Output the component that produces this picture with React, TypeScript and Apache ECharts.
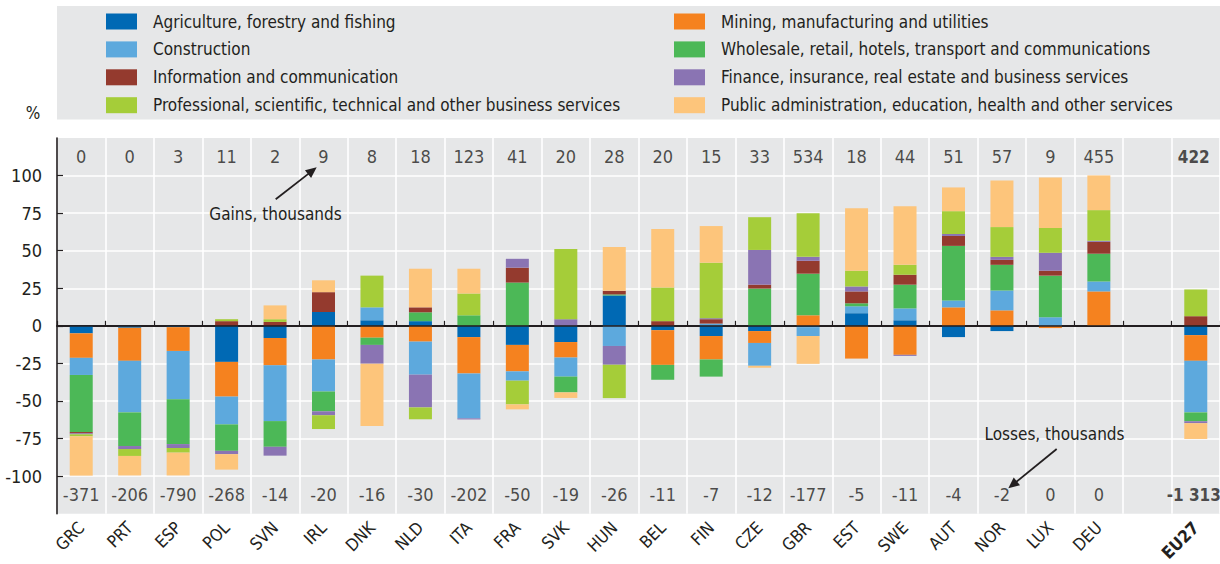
import React, { useEffect, useRef } from "react";
import * as echarts from "echarts";

const categories = ["GRC","PRT","ESP","POL","SVN","IRL","DNK","NLD","ITA","FRA","SVK","HUN","BEL","FIN","CZE","GBR","EST","SWE","AUT","NOR","LUX","DEU","","EU27"];

const gains = [0,0,3,11,2,9,8,18,123,41,20,28,20,15,33,534,18,44,51,57,9,455,null,422];
const losses = [-371,-206,-790,-268,-14,-20,-16,-30,-202,-50,-19,-26,-11,-7,-12,-177,-5,-11,-4,-2,0,0,null,-1313];

const agriculture = [-5,-1.3,-0.9,-24,-8.1,9.2,3.7,3.1,-7.5,-12.7,-10.8,20.2,-2.9,-6.8,-3.5,-0.9,8.4,3.7,-7.5,-3.5,0,0,null,-6.2];
const mining = [-16.3,-22,-15.8,-23.1,-18.2,-22.4,-7.9,-10.5,-24.2,-17.6,-10.3,0,-23.1,-15.6,-7.9,7,-21.8,-19.3,12.3,10.3,-1.5,22.9,null,-17.1];
const construction = [-11.4,-34.3,-32.1,-18.5,-37.1,-21.3,8.6,-22,-29.9,-6.2,-12.7,-13.4,0,1.5,-15.2,-5.9,4.6,7.9,4.6,13.2,5.7,6.6,null,-34.3];
const wholesale = [-38,-22.4,-29.9,-17.6,-17.1,-13.2,-4.8,5.9,7,28.8,-10.5,0.7,-9.9,-11.4,24.8,27.7,2,15.8,36.3,17.1,27.7,18.5,null,-5.9];
const information = [-0.9,0,0,3.1,2.6,13.2,0,3.3,0,9.9,0,2.4,3.1,2.9,2.6,8.6,7.9,6.6,6.6,3.3,3.3,7.9,null,6.4];
const finance = [-0.6,-2,-2.6,-2.2,-5.9,-2.6,-12.5,-21.8,-0.7,5.9,4.4,-12.5,0,0.7,23.1,2.6,3.3,-0.7,1.3,2,11.9,0.7,null,-1.3];
const professional = [-1.3,-4.6,-3.1,1.3,1.8,-9.2,21.1,-7.9,14.5,-15.8,46.8,-22.2,22.4,36.9,21.8,29,10.5,6.6,15.2,19.8,16.5,20.4,null,17.8];
const publicAdmin = [-26.2,-13,-15.2,-10.3,9.2,7.9,-41.5,25.7,16.5,-3.3,-3.7,29.2,38.9,24.4,-1.3,-18.5,41.5,38.9,15.8,31,33.6,23.1,null,-10.5];

const yTicks = [-100,-75,-50,-25,0,25,50,75,100];

const sectorNames = [
  "Agriculture, forestry and fishing",
  "Mining, manufacturing and utilities",
  "Construction",
  "Wholesale, retail, hotels, transport and communications",
  "Information and communication",
  "Finance, insurance, real estate and business services",
  "Professional, scientific, technical and other business services",
  "Public administration, education, health and other services",
];
const sectorValues = [agriculture, mining, construction, wholesale, information, finance, professional, publicAdmin];
const sectorColors = ["#0069b4","#f5821f","#5da9dd","#4cb857","#943a2e","#8a74b3","#a5cd39","#fdc57b"];

const FONT = "'Liberation Sans Narrow', 'Arial Narrow', 'DejaVu Sans Condensed', sans-serif";
const TXT = "#231f20";
const BG = "#e6e7e8";
const LABEL_BAND = 112.5;

function fmt(n: number): string {
  const s = String(Math.abs(n)).replace(/\B(?=(\d{3})+(?!\d))/g, " ");
  return n < 0 ? "-" + s : s;
}

function arrow(x1: number, y1: number, x2: number, y2: number) {
  const dx = x2 - x1, dy = y2 - y1;
  const len = Math.hypot(dx, dy);
  const ux = dx / len, uy = dy / len;
  const L = 11, W = 5;
  const bx = x2 - ux * L, by = y2 - uy * L;
  return [
    { type: "line", shape: { x1, y1, x2: bx + ux * 2, y2: by + uy * 2 }, style: { stroke: TXT, lineWidth: 1.8 } },
    { type: "polygon", shape: { points: [[x2, y2], [bx - uy * W, by + ux * W], [bx + uy * W, by - ux * W]] }, style: { fill: TXT } },
  ];
}

export default function App() {
  const ref = useRef<HTMLDivElement>(null);
  useEffect(() => {
    if (!ref.current) return;
    const chart = echarts.init(ref.current, null, { renderer: "svg" });

    const barSeries = sectorNames.map((name, i) => ({
      name,
      type: "bar",
      stack: "total",
      barWidth: 23,
      data: sectorValues[i],
      itemStyle: { color: sectorColors[i] },
      emphasis: { disabled: true },
      silent: true,
    }));

    const labelSeries = (vals: (number | null)[], band: number, withZero: boolean) => ({
      name: band > 0 ? "gainsLabels" : "lossesLabels",
      type: "scatter",
      symbolSize: 0,
      silent: true,
      z: 5,
      data: vals.map((v, i) =>
        v === null
          ? null
          : {
              value: band,
              label: {
                show: true,
                position: "inside",
                formatter: fmt(v),
                fontSize: categories[i] === "EU27" ? 17 : 18,
                color: TXT,
                fontFamily: FONT,
                fontWeight: categories[i] === "EU27" ? "bold" : "normal",
                offset: categories[i] === "EU27" ? [-2, 0] : [0, 0],
              },
            }
      ),
      markLine: withZero
        ? {
            silent: true,
            symbol: "none",
            label: { show: false },
            lineStyle: { color: TXT, width: 1.6, type: "solid" },
            data: [{ yAxis: 0 }],
          }
        : undefined,
    });

    const legendCommon = {
      orient: "vertical",
      top: 13,
      padding: 0,
      itemWidth: 31,
      itemHeight: 16,
      itemGap: 10.9,
      icon: "rect",
      selectedMode: false,
      textStyle: { fontSize: 17, color: TXT, fontFamily: FONT, lineHeight: 16, padding: [0, 0, 0, 11] },
    };

    chart.setOption({
      animation: false,
      textStyle: { fontFamily: FONT },
      legend: [
        { ...legendCommon, left: 106, data: [sectorNames[0], sectorNames[2], sectorNames[4], sectorNames[6]] },
        { ...legendCommon, left: 674, data: [sectorNames[1], sectorNames[3], sectorNames[5], sectorNames[7]] },
      ],
      grid: {
        left: 57,
        right: -1,
        top: 138,
        bottom: 47,
        show: true,
        backgroundColor: BG,
        borderWidth: 0,
        containLabel: false,
      },
      xAxis: {
        type: "category",
        data: categories,
        axisLine: { lineStyle: { color: TXT, width: 2 } },
        axisTick: { show: true, inside: true, length: 5, interval: 0, lineStyle: { color: TXT, width: 1.2 } },
        splitLine: { show: true, interval: 0, lineStyle: { color: "#ffffff", width: 1.6 } },
        axisLabel: {
          interval: 0,
          rotate: 45,
          margin: 11,
          fontSize: 17,
          color: TXT,
          fontFamily: FONT,
          formatter: (v: string) => (v === "EU27" ? "{b|EU27}" : v),
          rich: { b: { fontWeight: "bold", fontSize: 17, color: TXT, fontFamily: FONT } },
        },
      },
      yAxis: {
        type: "value",
        min: -125,
        max: 125,
        interval: 25,
        axisLine: { show: true, lineStyle: { color: TXT, width: 1.6 } },
        axisTick: { show: true, inside: true, length: 6, lineStyle: { color: TXT, width: 1.2 }, customValues: yTicks },
        axisLabel: {
          fontSize: 18,
          color: TXT,
          margin: 15,
          fontFamily: FONT,
          customValues: yTicks,
          formatter: (v: number) => (Math.abs(v) > 100 ? "" : String(v)),
        },
        splitLine: { show: true, lineStyle: { color: "#ffffff", width: 1.6 } },
      },
      graphic: [
        { type: "rect", z: -10, shape: { x: 57, y: 6, width: 1170, height: 113.5 }, style: { fill: BG } },
        { type: "text", x: 33, y: 113, style: { text: "%", font: `17px ${FONT}`, fill: TXT, textAlign: "center", textVerticalAlign: "middle" } },
        { type: "text", x: 275.5, y: 214, z: 10, style: { text: "Gains, thousands", font: `17px ${FONT}`, fill: TXT, textAlign: "center", textVerticalAlign: "middle" } },
        { type: "text", x: 1054.5, y: 434, z: 10, style: { text: "Losses, thousands", font: `17px ${FONT}`, fill: TXT, textAlign: "center", textVerticalAlign: "middle" } },
        ...arrow(275.7, 199.3, 316.7, 167.3).map((e) => ({ ...e, z: 10 })),
        ...arrow(1056.7, 449, 1008.3, 488.3).map((e) => ({ ...e, z: 10 })),
      ],
      series: [
        ...barSeries,
        labelSeries(gains, LABEL_BAND, true),
        labelSeries(losses, -LABEL_BAND, false),
      ],
    });

    return () => chart.dispose();
  }, []);

  return <div ref={ref} style={{ position: "fixed", left: 0, top: 0, width: 1220, height: 564, background: "#fff" }} />;
}
